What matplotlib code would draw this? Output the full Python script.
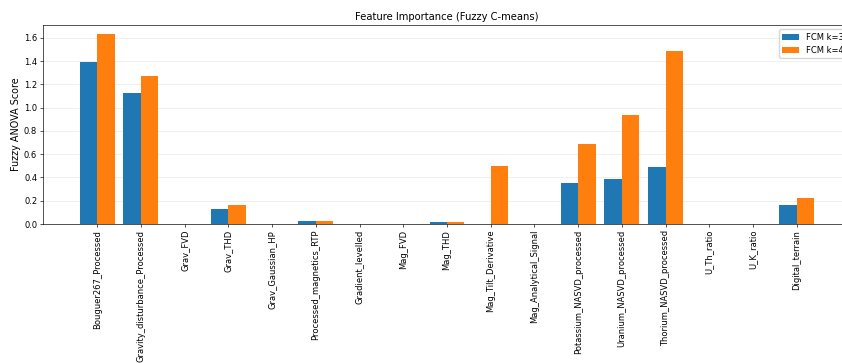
import numpy as np
import matplotlib
matplotlib.use("Agg")
import matplotlib.pyplot as plt

features = [
    "Bouguer267_Processed", "Gravity_disturbance_Processed", "Grav_FVD", "Grav_THD",
    "Grav_Gaussian_HP", "Processed_magnetics_RTP", "Gradient_levelled", "Mag_FVD",
    "Mag_THD", "Mag_Tilt_Derivative", "Mag_Analytical_Signal",
    "Potassium_NASVD_processed", "Uranium_NASVD_processed", "Thorium_NASVD_processed",
    "U_Th_ratio", "U_K_ratio", "Digital_terrain",
]
fcm_k3 = [1.39, 1.13, 0.0, 0.13, 0.0, 0.03, 0.0, 0.0, 0.015, 0.0, 0.0,
          0.35, 0.39, 0.49, 0.0, 0.0, 0.16]
fcm_k4 = [1.63, 1.27, 0.0, 0.16, 0.0, 0.03, 0.0, 0.0, 0.015, 0.50, 0.0,
          0.69, 0.94, 1.49, 0.0, 0.0, 0.22]
series_labels = ["FCM k=3", "FCM k=4"]

W, H = 842, 363
s = 0.6  # overall scale of fonts and lines
fig = plt.figure(figsize=(W / 100, H / 100), dpi=100)
ax = fig.add_axes([43 / W, 1 - 224 / H, (851 - 43) / W, (224 - 25) / H])

x = np.arange(len(features))
width = 0.4
ax.bar(x - width / 2, fcm_k3, width, label=series_labels[0], color="#1f77b4")
ax.bar(x + width / 2, fcm_k4, width, label=series_labels[1], color="#ff7f0e")

ax.set_xticks(x)
ax.set_xticklabels(features, rotation=90, fontsize=10 * s)
ax.tick_params(axis="y", labelsize=10 * s)
ax.tick_params(length=3.5 * s, width=0.8 * s, pad=3.5 * s)
ax.set_ylabel("Fuzzy ANOVA Score", fontsize=11.5 * s, labelpad=4 * s)
ax.set_title("Feature Importance (Fuzzy C-means)", fontsize=12 * s, pad=6 * s)
ax.grid(axis="y", alpha=0.3, linewidth=0.8 * s)
ax.set_axisbelow(True)
for sp in ax.spines.values():
    sp.set_linewidth(0.8 * s)
ax.legend(loc="upper right", fontsize=10 * s)

fig.savefig("out.png", dpi=100)
